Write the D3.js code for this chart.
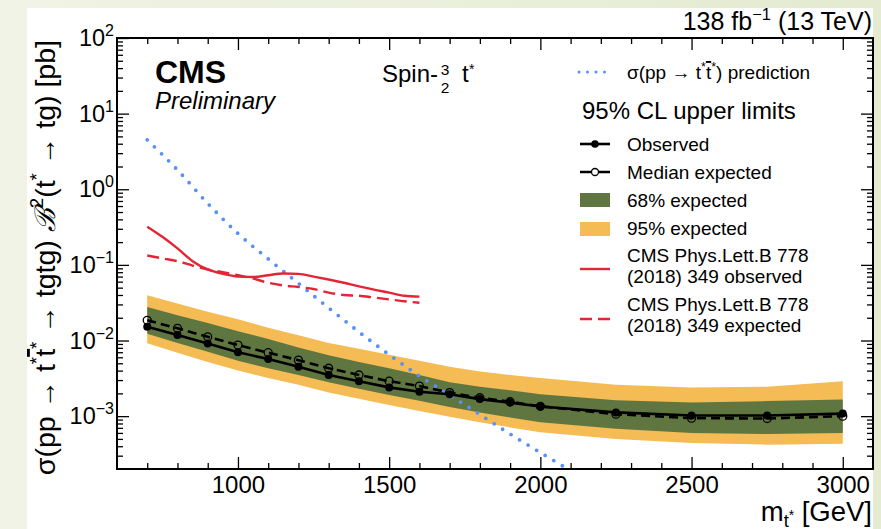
<!DOCTYPE html>
<html lang="en">
<head>
<meta charset="UTF-8">
<title>Spin-3/2 t* limits</title>
<script src="https://d3js.org/d3.v7.min.js"></script>
<style>
    html, body {
        margin: 0;
        padding: 0;
    }
    body {
        width: 881px;
        height: 529px;
        overflow: hidden;
        background: linear-gradient(90deg, #f1f3e6, #e4ebd0);
    }
    svg {
        display: block;
        font-family: "Liberation Sans", Arial, Helvetica, sans-serif;
    }
</style>
</head>
<body>
<svg width="881" height="529"></svg>
<script>
    // ---- values ----
    const massPoints = [700, 800, 900, 1000, 1100, 1200, 1300, 1400, 1500, 1600, 1700, 1800, 1900, 2000, 2250, 2500, 2750, 3000];
    const observed  = [0.0152, 0.0118, 0.0091, 0.0070, 0.0057, 0.0045, 0.0035, 0.0029, 0.0024, 0.0021, 0.00195, 0.00168, 0.00151, 0.00134, 0.00112, 0.00102, 0.00102, 0.00108];
    const expected  = [0.0185, 0.0145, 0.0112, 0.0087, 0.0069, 0.0055, 0.0043, 0.0035, 0.0029, 0.0025, 0.00205, 0.00175, 0.00155, 0.00135, 0.00106, 0.00094, 0.00093, 0.00100];
    const exp68Up   = [0.0277, 0.0216, 0.0170, 0.0133, 0.0105, 0.0081, 0.0064, 0.0052, 0.0043, 0.0035, 0.0028, 0.00245, 0.0022, 0.00195, 0.00162, 0.00151, 0.00158, 0.00166];
    const exp68Down = [0.0123, 0.0093, 0.0071, 0.0054, 0.0043, 0.0035, 0.0028, 0.0023, 0.0019, 0.0016, 0.00132, 0.00112, 0.00096, 0.00083, 0.00068, 0.00060, 0.00058, 0.00060];
    const exp95Up   = [0.0398, 0.0309, 0.0240, 0.0191, 0.0148, 0.0117, 0.0093, 0.0078, 0.0065, 0.0054, 0.0045, 0.0039, 0.0035, 0.0032, 0.0026, 0.0024, 0.00245, 0.0029];
    const exp95Down = [0.0092, 0.0069, 0.0052, 0.0040, 0.0032, 0.0026, 0.00205, 0.0017, 0.0014, 0.00117, 0.00098, 0.00083, 0.00071, 0.00061, 0.00050, 0.00044, 0.00042, 0.00043];

    // theory prediction sigma(pp -> t* t*bar)
    const predMass  = [700, 800, 900, 1000, 1100, 1200, 1300, 1400, 1500, 1600, 1700, 1800, 1900, 2000, 2100];
    const predXsec  = [4.5, 1.8, 0.65, 0.26, 0.12, 0.057, 0.027, 0.013, 0.0065, 0.0034, 0.0019, 0.00105, 0.00058, 0.00033, 0.00019];

    // previous result, PLB 778 (2018) 349
    const prevMass     = [700, 750, 800, 850, 900, 950, 1000, 1050, 1100, 1150, 1200, 1250, 1300, 1350, 1400, 1450, 1500, 1550, 1600];
    const prevObserved = [0.32, 0.235, 0.165, 0.112, 0.087, 0.076, 0.070, 0.069, 0.073, 0.077, 0.076, 0.070, 0.064, 0.058, 0.052, 0.047, 0.043, 0.039, 0.038];
    const prevExpected = [0.133, 0.122, 0.112, 0.098, 0.087, 0.080, 0.073, 0.066, 0.058, 0.0535, 0.051, 0.048, 0.043, 0.040, 0.039, 0.037, 0.035, 0.033, 0.0315];

    // axes
    const xDomain = [600, 3100];
    const yDomain = [2e-4, 100];
    const xTickLabels = [1000, 1500, 2000, 2500, 3000];
    const yTickExponents = [-3, -2, -1, 0, 1, 2];

    const colors = {
        band68: "#607641",
        band95: "#f5bb54",
        pred: "#5790fc",
        prev: "#e42536"
    };

    // ---- setup ----
    const svg = d3.select("svg");
    const frame = { left: 117, top: 38, right: 873, bottom: 469 };

    const x = d3.scaleLinear().domain(xDomain).range([frame.left, frame.right]);
    const y = d3.scaleLog().domain(yDomain).range([frame.bottom, frame.top]);

    // white canvas
    svg.append("rect")
        .attr("x", 27).attr("y", 8)
        .attr("width", 846).attr("height", 521)
        .attr("fill", "white");

    svg.append("clipPath").attr("id", "plotClip")
        .append("rect")
        .attr("x", frame.left).attr("y", frame.top)
        .attr("width", frame.right - frame.left)
        .attr("height", frame.bottom - frame.top);

    const plot = svg.append("g").attr("clip-path", "url(#plotClip)");

    // ---- bands ----
    const bandArea = (lo, hi) => d3.area()
        .x((d, i) => x(massPoints[i]))
        .y0((d, i) => y(lo[i]))
        .y1((d, i) => y(hi[i]));

    plot.append("path")
        .attr("d", bandArea(exp95Down, exp95Up)(massPoints))
        .attr("fill", colors.band95);

    plot.append("path")
        .attr("d", bandArea(exp68Down, exp68Up)(massPoints))
        .attr("fill", colors.band68);

    // ---- lines ----
    const lineOf = (xs, ys, curve) => d3.line()
        .curve(curve || d3.curveLinear)
        .x((d, i) => x(xs[i]))
        .y((d, i) => y(ys[i]))(xs);

    // prediction (dotted)
    plot.append("path")
        .attr("d", lineOf(predMass, predXsec, d3.curveMonotoneX))
        .attr("fill", "none")
        .attr("stroke", colors.pred)
        .attr("stroke-width", 3.8)
        .attr("stroke-linecap", "round")
        .attr("stroke-dasharray", "0 10");

    // previous CMS result
    plot.append("path")
        .attr("d", lineOf(prevMass, prevObserved, d3.curveMonotoneX))
        .attr("fill", "none")
        .attr("stroke", colors.prev)
        .attr("stroke-width", 2.4);

    plot.append("path")
        .attr("d", lineOf(prevMass, prevExpected, d3.curveMonotoneX))
        .attr("fill", "none")
        .attr("stroke", colors.prev)
        .attr("stroke-width", 2.4)
        .attr("stroke-dasharray", "12 6");

    // expected (dashed, open markers)
    plot.append("path")
        .attr("d", lineOf(massPoints, expected))
        .attr("fill", "none")
        .attr("stroke", "black")
        .attr("stroke-width", 2.6)
        .attr("stroke-dasharray", "9 5");

    plot.append("g").selectAll("circle")
        .data(expected)
        .enter().append("circle")
        .attr("cx", (d, i) => x(massPoints[i]))
        .attr("cy", d => y(d))
        .attr("r", 4)
        .attr("fill", "none")
        .attr("stroke", "black")
        .attr("stroke-width", 1.3);

    // observed (solid, filled markers)
    plot.append("path")
        .attr("d", lineOf(massPoints, observed))
        .attr("fill", "none")
        .attr("stroke", "black")
        .attr("stroke-width", 2.6);

    plot.append("g").selectAll("circle")
        .data(observed)
        .enter().append("circle")
        .attr("cx", (d, i) => x(massPoints[i]))
        .attr("cy", d => y(d))
        .attr("r", 4)
        .attr("fill", "black");

    // ---- axes: ROOT style, ticks inward on all four sides ----
    const xMinor = d3.range(xDomain[0] + 100, xDomain[1], 100).filter(v => !xTickLabels.includes(v));
    const yMajor = yTickExponents.map(e => Math.pow(10, e));
    const yMinor = [];
    yTickExponents.concat([-4]).forEach(e => {
        d3.range(2, 10).forEach(k => {
            const v = k * Math.pow(10, e);
            if (v > yDomain[0] && v < yDomain[1]) yMinor.push(v);
        });
    });

    const axes = svg.append("g").attr("class", "axes");

    function addAxis(axis, transform, labelled) {
        const g = axes.append("g").attr("transform", transform).call(axis);
        g.select(".domain").remove();
        g.selectAll(".tick line").attr("stroke", "black").attr("stroke-width", 1.3);
        if (!labelled) g.selectAll(".tick text").remove();
        return g;
    }

    // bottom
    const xAxisG = addAxis(d3.axisBottom(x).tickValues(xTickLabels).tickSize(-12).tickPadding(7).tickFormat(d3.format("d")),
        `translate(0,${frame.bottom})`, true);
    xAxisG.selectAll(".tick text")
        .attr("font-size", 24)
        .attr("font-family", "Liberation Sans, Arial, sans-serif")
        .attr("fill", "black");
    addAxis(d3.axisBottom(x).tickValues(xMinor).tickSize(-6), `translate(0,${frame.bottom})`, false);
    // top
    addAxis(d3.axisTop(x).tickValues(xTickLabels).tickSize(-12), `translate(0,${frame.top})`, false);
    addAxis(d3.axisTop(x).tickValues(xMinor).tickSize(-6), `translate(0,${frame.top})`, false);
    // left
    const yAxisG = addAxis(d3.axisLeft(y).tickValues(yMajor).tickSize(-12).tickPadding(3).tickFormat(""),
        `translate(${frame.left},0)`, true);
    addAxis(d3.axisLeft(y).tickValues(yMinor).tickSize(-6).tickFormat(""), `translate(${frame.left},0)`, false);
    // right
    addAxis(d3.axisRight(y).tickValues(yMajor).tickSize(-12).tickFormat(""), `translate(${frame.right},0)`, false);
    addAxis(d3.axisRight(y).tickValues(yMinor).tickSize(-6).tickFormat(""), `translate(${frame.right},0)`, false);

    // y labels as 10^n
    yAxisG.selectAll(".tick text")
        .attr("font-family", "Liberation Sans, Arial, sans-serif")
        .attr("fill", "black")
        .attr("font-size", 23.5)
        .each(function (d) {
            const t = d3.select(this).text("");
            t.append("tspan").text("10");
            t.append("tspan")
                .attr("font-size", 16)
                .attr("dy", -10)
                .text(String(Math.round(Math.log10(d))).replace("-", "\u2212"));
        });

    // frame
    svg.append("rect")
        .attr("x", frame.left).attr("y", frame.top)
        .attr("width", frame.right - frame.left)
        .attr("height", frame.bottom - frame.top)
        .attr("fill", "none")
        .attr("stroke", "black")
        .attr("stroke-width", 2);

    // ---- text helpers ----
    const sup = t => ({ t: t, off: -0.42, size: 0.66 });
    const sub = t => ({ t: t, off: 0.2, size: 0.66 });
    const tbar = { t: "t", off: 0, size: 1, over: true };

    function richText(parent, parts, fs, attrs) {
        const t = parent.append("text").attr("font-size", fs).attr("fill", "black");
        Object.entries(attrs || {}).forEach(([k, v]) => t.attr(k, v));
        let shift = 0;
        parts.forEach(p => {
            const part = typeof p === "string" ? { t: p, off: 0, size: 1 } : p;
            const target = (part.off || 0) * fs;
            const ts = t.append("tspan").attr("dy", target - shift).text(part.t);
            if (part.size && part.size !== 1) ts.attr("font-size", part.size * fs);
            if (part.italic) ts.attr("font-style", "italic");
            if (part.over) ts.attr("text-decoration", "overline");
            shift = target;
        });
        return t;
    }

    // axis titles
    richText(svg, [
        "\u03c3(pp \u2192 t", sup("*"), tbar, sup("*"), " \u2192 tgtg)  ",
        { t: "\u212c", off: 0, size: 1, italic: true }, sup("2"), "(t", sup("*"), " \u2192 tg) [pb]"
    ], 28.5, { "text-anchor": "end", transform: "translate(55,40) rotate(-90)" });

    richText(svg, ["m", sub("t"), { t: "*", off: -0.05, size: 0.5 }, " [GeV]"], 27.5,
        { "text-anchor": "end", x: 872, y: 521 });

    // lumi
    richText(svg, ["138 fb", sup("\u22121"), " (13 TeV)"], 25, { "text-anchor": "end", x: 872, y: 30 });

    // CMS label
    svg.append("text").attr("x", 155).attr("y", 83)
        .attr("font-size", 32).attr("font-weight", "bold").text("CMS");
    svg.append("text").attr("x", 155).attr("y", 109)
        .attr("font-size", 24).attr("font-style", "italic").text("Preliminary");

    // Spin-3/2 t*
    const spin = svg.append("g").attr("transform", "translate(382,82)");
    spin.append("text").attr("font-size", 24).text("Spin-");
    spin.append("text").attr("x", 63).attr("y", -7).attr("font-size", 15.5).attr("text-anchor", "middle").text("3");
    spin.append("text").attr("x", 63).attr("y", 11).attr("font-size", 15.5).attr("text-anchor", "middle").text("2");
    spin.append("text").attr("x", 80).attr("font-size", 24).text("t");
    spin.append("text").attr("x", 87).attr("y", -8).attr("font-size", 14).text("*");

    // ---- legend ----
    const lg = svg.append("g").attr("class", "legend");
    const lx0 = 580, lx1 = 610, tx = 627, lfs = 19;

    lg.append("line").attr("x1", lx0 - 1).attr("x2", lx1).attr("y1", 72).attr("y2", 72)
        .attr("stroke", colors.pred).attr("stroke-width", 3).attr("stroke-linecap", "round")
        .attr("stroke-dasharray", "0 8.5");
    richText(lg, ["\u03c3(pp \u2192 t", sup("*"), tbar, sup("*"), ") prediction"], lfs, { x: tx, y: 79 });

    lg.append("text").attr("x", 582).attr("y", 119).attr("font-size", 24).text("95% CL upper limits");

    lg.append("line").attr("x1", lx0).attr("x2", lx1).attr("y1", 144).attr("y2", 144)
        .attr("stroke", "black").attr("stroke-width", 2.6);
    lg.append("circle").attr("cx", (lx0 + lx1) / 2).attr("cy", 144).attr("r", 3.8).attr("fill", "black");
    lg.append("text").attr("x", tx).attr("y", 151).attr("font-size", lfs).text("Observed");

    lg.append("line").attr("x1", lx0).attr("x2", lx1).attr("y1", 172).attr("y2", 172)
        .attr("stroke", "black").attr("stroke-width", 2.6).attr("stroke-dasharray", "11 8");
    lg.append("circle").attr("cx", (lx0 + lx1) / 2).attr("cy", 172).attr("r", 3.5)
        .attr("fill", "white").attr("stroke", "black").attr("stroke-width", 1.3);
    lg.append("text").attr("x", tx).attr("y", 179).attr("font-size", lfs).text("Median expected");

    lg.append("rect").attr("x", lx0).attr("y", 193).attr("width", lx1 - lx0).attr("height", 14).attr("fill", colors.band68);
    lg.append("text").attr("x", tx).attr("y", 207).attr("font-size", lfs).text("68% expected");

    lg.append("rect").attr("x", lx0).attr("y", 222).attr("width", lx1 - lx0).attr("height", 14).attr("fill", colors.band95);
    lg.append("text").attr("x", tx).attr("y", 235).attr("font-size", lfs).text("95% expected");

    lg.append("line").attr("x1", lx0).attr("x2", lx1).attr("y1", 269).attr("y2", 269)
        .attr("stroke", colors.prev).attr("stroke-width", 2.4);
    lg.append("text").attr("x", tx).attr("y", 262).attr("font-size", lfs).text("CMS Phys.Lett.B 778");
    lg.append("text").attr("x", tx).attr("y", 283).attr("font-size", lfs).text("(2018) 349 observed");

    lg.append("line").attr("x1", lx0).attr("x2", lx1).attr("y1", 319).attr("y2", 319)
        .attr("stroke", colors.prev).attr("stroke-width", 2.4).attr("stroke-dasharray", "12 6");
    lg.append("text").attr("x", tx).attr("y", 311).attr("font-size", lfs).text("CMS Phys.Lett.B 778");
    lg.append("text").attr("x", tx).attr("y", 332).attr("font-size", lfs).text("(2018) 349 expected");
</script>
</body>
</html>
